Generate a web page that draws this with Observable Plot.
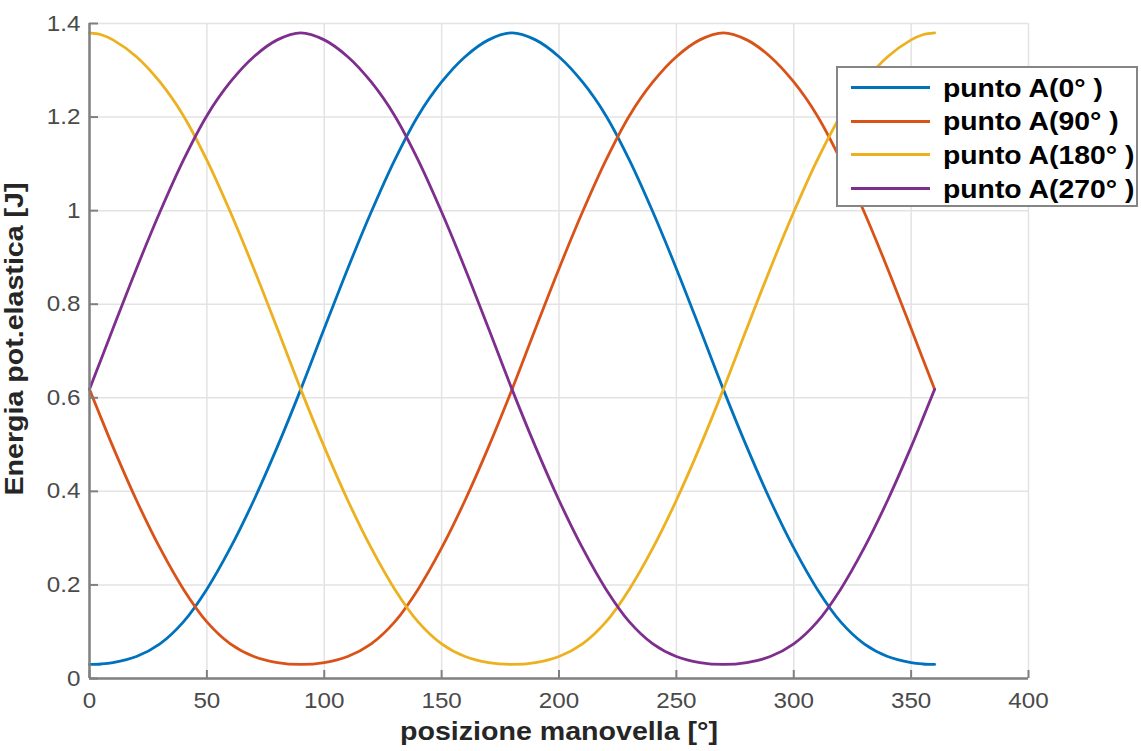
<!DOCTYPE html>
<html>
<head>
<meta charset="utf-8">
<script src="https://cdn.jsdelivr.net/npm/d3@7"></script>
<script src="https://cdn.jsdelivr.net/npm/@observablehq/plot@0.6"></script>
<style>
  html, body { margin: 0; padding: 0; background: #fff; }
  #chart { position: relative; width: 1141px; height: 751px; font-family: "Liberation Sans", Arial, sans-serif; }
  #legend {
    position: absolute; left: 836px; top: 66px; width: 302px; height: 141px;
    background: #fff; border: 2px solid #858585; box-sizing: border-box;
  }
  .item { position: absolute; left: 0; width: 100%; height: 34px; }
  .swatch { position: absolute; left: 13px; top: 15.5px; width: 79px; height: 3px; }
  .name {
    position: absolute; left: 105px; top: 0; white-space: nowrap;
    font-weight: bold; font-size: 26px; color: #000; line-height: 34px;
    transform: scaleX(1.09); transform-origin: left center;
  }
</style>
</head>
<body>
<div id="chart"></div>
<script>
// Crank angle samples [°]
const angles = [0, 5, 10, 20, 30, 40, 50, 60, 70, 80, 90, 100, 110, 120, 130, 140, 150, 160, 170, 180,
                190, 200, 210, 220, 230, 240, 250, 260, 270, 280, 290, 300, 310, 320, 330, 340, 350, 355, 360];

// Elastic potential energy [J] for each starting position of point A
const puntoA0 = [0.030, 0.031, 0.034, 0.047, 0.074, 0.121, 0.191, 0.279, 0.381, 0.495, 0.618, 0.748, 0.876, 0.997, 1.108, 1.203, 1.275, 1.329, 1.365, 1.380,
                 1.365, 1.329, 1.275, 1.203, 1.108, 0.997, 0.876, 0.748, 0.618, 0.495, 0.381, 0.279, 0.191, 0.121, 0.074, 0.047, 0.034, 0.031, 0.030];
const puntoA90 = [0.618, 0.556, 0.495, 0.381, 0.279, 0.191, 0.121, 0.074, 0.047, 0.034, 0.030, 0.034, 0.047, 0.074, 0.121, 0.191, 0.279, 0.381, 0.495, 0.618,
                  0.748, 0.876, 0.997, 1.108, 1.203, 1.275, 1.329, 1.365, 1.380, 1.365, 1.329, 1.275, 1.203, 1.108, 0.997, 0.876, 0.748, 0.683, 0.618];
const puntoA180 = [1.380, 1.376, 1.365, 1.329, 1.275, 1.203, 1.108, 0.997, 0.876, 0.748, 0.618, 0.495, 0.381, 0.279, 0.191, 0.121, 0.074, 0.047, 0.034, 0.030,
                   0.034, 0.047, 0.074, 0.121, 0.191, 0.279, 0.381, 0.495, 0.618, 0.748, 0.876, 0.997, 1.108, 1.203, 1.275, 1.329, 1.365, 1.376, 1.380];
const puntoA270 = [0.618, 0.683, 0.748, 0.876, 0.997, 1.108, 1.203, 1.275, 1.329, 1.365, 1.380, 1.365, 1.329, 1.275, 1.203, 1.108, 0.997, 0.876, 0.748, 0.618,
                   0.495, 0.381, 0.279, 0.191, 0.121, 0.074, 0.047, 0.034, 0.030, 0.034, 0.047, 0.074, 0.121, 0.191, 0.279, 0.381, 0.495, 0.556, 0.618];

const seriesNames = ["punto A(0° )", "punto A(90° )", "punto A(180° )", "punto A(270° )"];
const seriesValues = [puntoA0, puntoA90, puntoA180, puntoA270];
const seriesColors = ["#0072BD", "#D95319", "#EDB120", "#7E2F8E"];

const xTicks = [0, 50, 100, 150, 200, 250, 300, 350, 400];
const yTicks = [0, 0.2, 0.4, 0.6, 0.8, 1, 1.2, 1.4];

const xLabel = "posizione manovella [°]";
const yLabel = "Energia pot.elastica [J]";

const rows = seriesNames.flatMap((name, i) =>
  angles.map((a, j) => ({serie: name, angolo: a, energia: seriesValues[i][j]}))
);

const W = 1141, H = 751;
const mL = 89, mR = 113, mT = 23, mB = 73;
const innerW = W - mL - mR, innerH = H - mT - mB;
const axisGray = "#808080";
const tickText = "#4a4a4a";
const font = "Liberation Sans, Arial, sans-serif";

const plot = Plot.plot({
  width: W,
  height: H,
  marginLeft: mL,
  marginRight: mR,
  marginTop: mT,
  marginBottom: mB,
  style: {fontFamily: font, background: "#fff", overflow: "visible"},
  x: {domain: [0, 400]},
  y: {domain: [0, 1.4]},
  color: {domain: seriesNames, range: seriesColors},
  marks: [
    Plot.gridX(xTicks, {stroke: "#e3e3e3", strokeOpacity: 1, strokeWidth: 1.5}),
    Plot.gridY(yTicks, {stroke: "#e3e3e3", strokeOpacity: 1, strokeWidth: 1.5}),
    Plot.line(rows, {x: "angolo", y: "energia", z: "serie", stroke: "serie", strokeWidth: 2.8, curve: "catmull-rom"}),
    // axis lines on the left and bottom only
    Plot.ruleX([0], {stroke: axisGray, strokeWidth: 2.5}),
    Plot.ruleY([0], {stroke: axisGray, strokeWidth: 2.5}),
    // inward ticks
    Plot.tickX(xTicks, {x: d => d, stroke: axisGray, strokeWidth: 2, insetTop: innerH - 8}),
    Plot.tickY(yTicks, {y: d => d, stroke: axisGray, strokeWidth: 2, insetRight: innerW - 9}),
    Plot.axisX(xTicks, {tickSize: 0, tickPadding: 14, fontSize: 22, fill: tickText, label: null}),
    Plot.axisY(yTicks, {tickSize: 0, tickPadding: 9, fontSize: 22, fill: tickText, label: null, tickFormat: d => String(d)}),
    Plot.text([xLabel], {text: d => d, frameAnchor: "bottom", textAnchor: "middle", dy: 61, fontSize: 26, fontWeight: "bold", fill: "#262626"}),
    Plot.text([yLabel], {text: d => d, frameAnchor: "left", textAnchor: "middle", rotate: -90, dx: -75, dy: -12, fontSize: 26, fontWeight: "bold", fill: "#262626"})
  ]
});

// widen the glyphs slightly along the reading direction
function stretchText(root, s) {
  d3.select(root).selectAll("text").each(function () {
    let tr = this.getAttribute("transform") || "";
    const x = this.getAttribute("x");
    if (x !== null && /^-?[\d.]+$/.test(x)) {
      tr += ` translate(${+x},0)`;
      this.removeAttribute("x");
    }
    this.setAttribute("transform", `${tr} scale(${s},1)`);
  });
}
stretchText(plot, 1.1);

const chart = document.getElementById("chart");
chart.appendChild(plot);

// legend box with line swatches
const legend = document.createElement("div");
legend.id = "legend";
seriesNames.forEach((name, i) => {
  const item = document.createElement("div");
  item.className = "item";
  item.style.top = (2.5 + i * 33.7) + "px";
  const sw = document.createElement("div");
  sw.className = "swatch";
  sw.style.background = seriesColors[i];
  const tx = document.createElement("div");
  tx.className = "name";
  tx.textContent = name;
  item.appendChild(sw);
  item.appendChild(tx);
  legend.appendChild(item);
});
chart.appendChild(legend);
</script>
</body>
</html>
